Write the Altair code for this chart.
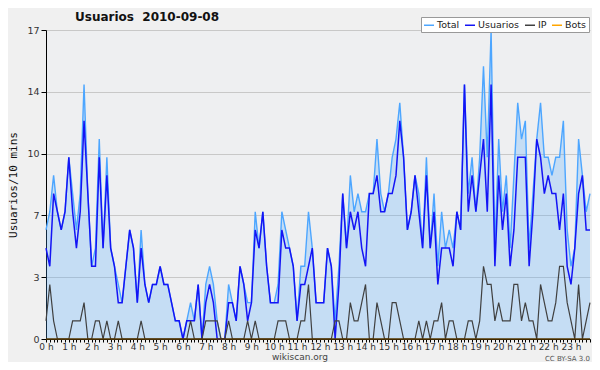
import altair as alt
import pandas as pd

# ---- data (10-minute buckets, 2010-09-08) ----
minutes = list(range(0, 1440, 10))
series_names = ["Total", "Usuarios", "IP", "Bots"]
series_colors = ["#4da6ff", "#1414f5", "#404040", "#ffa500"]

total = [
    6, 7, 9, 7, 6, 7, 10, 8, 6, 8,
    14, 8, 4, 5, 11, 5, 10, 5, 4, 3,
    2, 4, 6, 5, 2, 6, 3, 2, 3, 3,
    4, 3, 3, 2, 1, 1, 0, 1, 2, 1,
    3, 0, 3, 4, 3, 1, 0, 0, 3, 2,
    1, 4, 3, 2, 2, 7, 5, 7, 4, 2,
    2, 3, 7, 6, 5, 4, 1, 4, 4, 7,
    5, 2, 2, 2, 5, 4, 1, 4, 8, 5,
    9, 7, 8, 7, 7, 8, 8, 11, 8, 7,
    8, 10, 11, 13, 10, 6, 7, 9, 8, 5,
    10, 5, 8, 4, 7, 5, 6, 5, 7, 6,
    14, 8, 10, 7, 10, 15, 10, 17, 5, 11,
    7, 9, 5, 9, 13, 11, 12, 5, 8, 11,
    13, 10, 10, 9, 10, 10, 12, 6, 4, 5,
    11, 9, 7, 8,
]
usuarios = [
    5, 4, 8, 7, 6, 7, 10, 7, 5, 7,
    12, 8, 4, 4, 10, 5, 9, 5, 4, 2,
    2, 4, 6, 5, 2, 5, 3, 2, 3, 3,
    4, 3, 3, 2, 1, 1, 0, 1, 1, 1,
    3, 0, 2, 3, 2, 0, 0, 0, 2, 2,
    1, 4, 3, 1, 2, 6, 5, 7, 4, 2,
    2, 2, 6, 5, 5, 4, 1, 3, 3, 4,
    5, 2, 2, 2, 5, 4, 0, 3, 8, 5,
    7, 6, 7, 5, 4, 8, 8, 9, 7, 7,
    8, 8, 9, 12, 10, 6, 7, 9, 7, 5,
    9, 5, 7, 3, 5, 5, 5, 4, 7, 6,
    14, 7, 9, 7, 9, 11, 7, 14, 4, 9,
    6, 8, 4, 6, 10, 10, 10, 4, 7, 11,
    10, 8, 9, 8, 8, 6, 8, 4, 3, 5,
    8, 9, 6, 6,
]
ip = [
    1, 3, 1, 0, 0, 0, 0, 1, 1, 1,
    2, 0, 0, 1, 1, 0, 1, 0, 0, 1,
    0, 0, 0, 0, 0, 1, 0, 0, 0, 0,
    0, 0, 0, 0, 0, 0, 0, 0, 1, 0,
    0, 0, 1, 1, 1, 1, 0, 0, 1, 0,
    0, 0, 0, 1, 0, 1, 0, 0, 0, 0,
    0, 1, 1, 1, 0, 0, 0, 1, 1, 3,
    0, 0, 0, 0, 0, 0, 1, 1, 0, 0,
    2, 1, 1, 2, 3, 0, 0, 2, 1, 0,
    0, 2, 2, 1, 0, 0, 0, 0, 1, 0,
    1, 0, 1, 1, 2, 0, 1, 1, 0, 0,
    0, 1, 1, 0, 1, 4, 3, 3, 1, 2,
    1, 1, 1, 3, 3, 1, 2, 1, 1, 0,
    3, 2, 1, 1, 2, 4, 4, 2, 1, 0,
    3, 0, 1, 2,
]
bots = [
    0, 0, 0, 0, 0, 0, 0, 0, 0, 0, 0, 0, 0, 0, 0, 0, 0, 0, 0, 0, 0, 0, 0, 0,
    0, 0, 0, 0, 0, 0, 0, 0, 0, 0, 0, 0, 0, 0, 0, 0, 0, 0, 0, 0, 0, 0, 0, 0,
    0, 0, 0, 0, 0, 0, 0, 0, 0, 0, 0, 0, 0, 0, 0, 0, 0, 0, 0, 0, 0, 0, 0, 0,
    0, 0, 0, 0, 0, 0, 0, 0, 0, 0, 0, 0, 0, 0, 0, 0, 0, 0, 0, 0, 0, 0, 0, 0,
    0, 0, 0, 0, 0, 0, 0, 0, 0, 0, 0, 0, 0, 0, 0, 0, 0, 0, 0, 0, 0, 0, 0, 0,
    0, 0, 0, 0, 0, 0, 0, 0, 0, 0, 0, 0, 0, 0, 0, 0, 0, 0, 0, 0, 0, 0, 0, 0,
]
y_ticks = [0, 0.85, 1.7, 2.55, 3.4, 4.25, 5.1, 5.95, 6.8, 7.65, 8.5,
           9.35, 10.2, 11.05, 11.9, 12.75, 13.6, 14.45, 15.3, 16.15, 17]

title_text = "Usuarios\u00a0 2010-09-08"
footer_text = "wikiscan.org"
license_text = "CC BY-SA 3.0"

rows = []
for name, vals in zip(series_names, [total, usuarios, ip, bots]):
    for m, v in zip(minutes, vals):
        rows.append({"min": m, "v": v, "serie": name})
df = pd.DataFrame(rows)

FONT = "DejaVu Sans"
major = "abs(datum.value / 3.4 - round(datum.value / 3.4)) < 0.01"

PLOT_W = 544
PLOT_H = 309
TOP = 22

x_enc = alt.X(
    "min:Q",
    scale=alt.Scale(domain=[0, 1430], nice=False, zero=False),
    axis=alt.Axis(
        values=minutes,
        labelExpr="datum.value % 60 == 0 ? (datum.value / 60) + ' h' : ''",
        labelOverlap=False,
        labelFlush=False,
        grid=False,
        tickSize=3,
        tickColor="black",
        domainColor="black",
        labelFont=FONT,
        labelFontSize=9,
        labelColor="#333333",
        labelPadding=0,
        title=None,
    ),
)
y_enc = alt.Y(
    "v:Q",
    scale=alt.Scale(domain=[0, 17], nice=False),
    axis=alt.Axis(
        values=y_ticks,
        labelExpr=major + " ? format(datum.value, '.0f') : ''",
        labelFlush=False,
        gridOpacity={"condition": {"test": major, "value": 1}, "value": 0},
        gridColor="#c8c8c8",
        tickSize={"condition": {"test": major, "value": 5}, "value": 3},
        tickColor="black",
        domainColor="black",
        labelFont=FONT,
        labelFontSize=9.5,
        labelColor="#333333",
        labelPadding=2,
        title="Usuarios/10 mins",
        titleFont="DejaVu Sans Mono",
        titleFontSize=11,
        titleFontWeight="normal",
        titleColor="#111111",
        titlePadding=8,
    ),
)

color_enc = alt.Color(
    "serie:N",
    scale=alt.Scale(domain=series_names, range=series_colors),
    legend=alt.Legend(
        orient="none",
        legendX=375,
        legendY=-13,
        direction="horizontal",
        title=None,
        symbolType="stroke",
        symbolSize=100,
        symbolStrokeWidth=1.5,
        labelFont=FONT,
        labelFontSize=9.5,
        labelColor="#222222",
        labelOffset=2,
        columnPadding=2,
        padding=2,
        fillColor="white",
        strokeColor="#999999",
    ),
)

base = alt.Chart(df)

area = base.transform_filter(alt.datum.serie == "Total").mark_area(
    color="#4da6ff", opacity=0.25
).encode(x=x_enc, y=y_enc)

lines = []
for name, w in zip(series_names, [1.4, 1.5, 1.2, 1.2]):
    lines.append(
        base.transform_filter(alt.datum.serie == name)
        .mark_line(strokeWidth=w)
        .encode(x=x_enc, y=y_enc, color=color_enc)
    )

zero_rule = alt.Chart(pd.DataFrame({"z": [0]})).mark_rule(
    color="black", strokeWidth=1
).encode(y=alt.Y("z:Q"))

one = pd.DataFrame({"k": [1]})
shadow = alt.Chart(one).mark_rect(color="#8a8a8a").encode(
    x=alt.value(378), x2=alt.value(543), y=alt.value(-10), y2=alt.value(3)
)
title = alt.Chart(one).mark_text(
    align="left", baseline="middle", font=FONT, fontSize=12,
    fontWeight="bold", color="#111111"
).encode(x=alt.value(29), y=alt.value(-13), text=alt.value(title_text))
footer = alt.Chart(one).mark_text(
    align="center", baseline="bottom", font=FONT, fontSize=9, color="#444444"
).encode(x=alt.value(254), y=alt.value(354 - TOP), text=alt.value(footer_text))
lic = alt.Chart(one).mark_text(
    align="right", baseline="bottom", font=FONT, fontSize=7, color="#555555"
).encode(x=alt.value(544), y=alt.value(354 - TOP), text=alt.value(license_text))

chart = alt.layer(
    area, *lines, zero_rule, shadow, title, footer, lic
).properties(
    width=PLOT_W,
    height=PLOT_H,
    background="#f0f0f0",
    autosize=alt.AutoSizeParams(type="none"),
    padding={"left": 38, "top": TOP, "right": 2, "bottom": 354 - TOP - PLOT_H},
).configure_view(
    fill="#eeeff1", stroke=None
)

chart.save("out.html", embed_options={"renderer": "svg", "actions": False})
